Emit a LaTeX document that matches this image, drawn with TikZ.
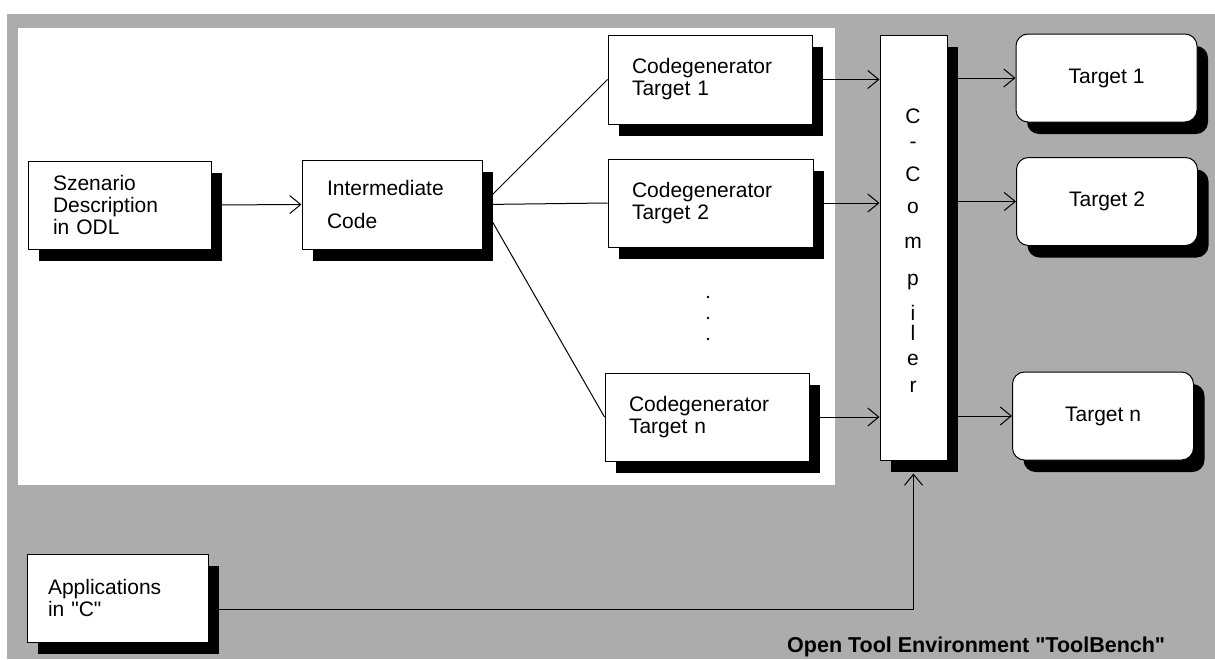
\documentclass[tikz,border=0pt]{standalone}
\usepackage{fontspec}
\setmainfont{Liberation Sans}
\usetikzlibrary{arrows.meta,shadows,calc}
\pgfdeclarelayer{bg}
\pgfdeclarelayer{lines}
\pgfsetlayers{bg,lines,main}
\definecolor{halftone}{RGB}{172,172,172}
\tikzset{
  shd/.style={drop shadow={shadow xshift=11pt,shadow yshift=-12pt,fill=black,opacity=1}},
  box/.style={draw=black,line width=1pt,fill=white,shd,inner sep=0pt,align=left,
    font=\fontsize{21}{22}\selectfont},
  tbox/.style={box,rounded corners=12pt,align=center,minimum width=181pt,minimum height=88pt},
  conn/.style={line width=1pt,draw=black},
  arr/.style={conn,-{Straight Barb[length=11pt,width=18pt,line width=1pt]}},
  letter/.style={font=\fontsize{21}{22}\selectfont,anchor=base,inner sep=0pt},
}
\begin{document}
\begin{tikzpicture}[x=1pt,y=-1pt]
\useasboundingbox (0,0) rectangle (1215,659);
\begin{pgfonlayer}{bg}
  \fill[halftone] (7,14) rectangle (1215,659);
  \fill[white] (18,28) rectangle (835,485);
\end{pgfonlayer}

% boxes
\node[box,minimum width=183pt,minimum height=88pt,text width=133pt] (szen) at (119.5,205)
  {Szenario\\Description\\in ODL};
\node[box,minimum width=180pt,minimum height=89pt,text width=130pt] (inter) at (392,204.5)
  {Intermediate\\[11pt]Code};
\node[box,minimum width=204pt,minimum height=89pt,text width=156pt] (cg1) at (710,79.5)
  {Codegenerator\\Target 1};
\node[box,minimum width=205pt,minimum height=88pt,text width=157pt] (cg2) at (710.5,203)
  {Codegenerator\\Target 2};
\node[box,minimum width=204pt,minimum height=88pt,text width=156pt] (cgn) at (707,417)
  {Codegenerator\\Target n};
\node[box,minimum width=67pt,minimum height=425pt] (comp) at (913.5,247.5) {};
\node[tbox] (t1) at (1106.5,78) {Target 1};
\node[tbox] (t2) at (1107,201.5) {Target 2};
\node[tbox] (tn) at (1103,416) {Target n};
\node[box,minimum width=181pt,minimum height=88pt,text width=139pt] (apps) at (117.5,598)
  {Applications\\in \textquotedbl C\textquotedbl};

% compiler letters
\foreach \l/\y [count=\i] in {C/123,-/148,C/181,o/213.5,m/248.5,p/285.5,i/320,l/340,e/365.5,r/392.5}
  \node[letter] (cl\i) at (913,\y) {\l};

% ellipsis dots
\foreach \y in {297,318,339}
  \fill (708,\y) circle (1.3pt);

% connectors
\begin{pgfonlayer}{lines}
  \draw[arr] (szen.east) -- (inter.west);
  \draw[conn] (inter.east) -- (cg1.west);
  \draw[conn] (inter.east) -- (cg2.west);
  \draw[conn] (inter.east) -- (cgn.west);
  \draw[arr] (cg1.east) -- (cg1.east -| comp.west);
  \draw[arr] (cg2.east) -- (cg2.east -| comp.west);
  \draw[arr] (cgn.east) -- (cgn.east -| comp.west);
  \draw[arr] (t1.west -| comp.east) -- (t1.west);
  \draw[arr] (t2.west -| comp.east) -- (t2.west);
  \draw[arr] (tn.west -| comp.east) -- (tn.west);
  \coordinate (compin) at ([yshift=-13pt]comp.south);
  \draw[arr] ([yshift=-11pt]apps.east) -| (compin);
\end{pgfonlayer}

\node[anchor=base west,inner sep=0pt,font=\fontsize{21.5}{24}\selectfont\bfseries] (title) at (787,652)
  {Open Tool Environment \textquotedbl ToolBench\textquotedbl};
\end{tikzpicture}
\end{document}
